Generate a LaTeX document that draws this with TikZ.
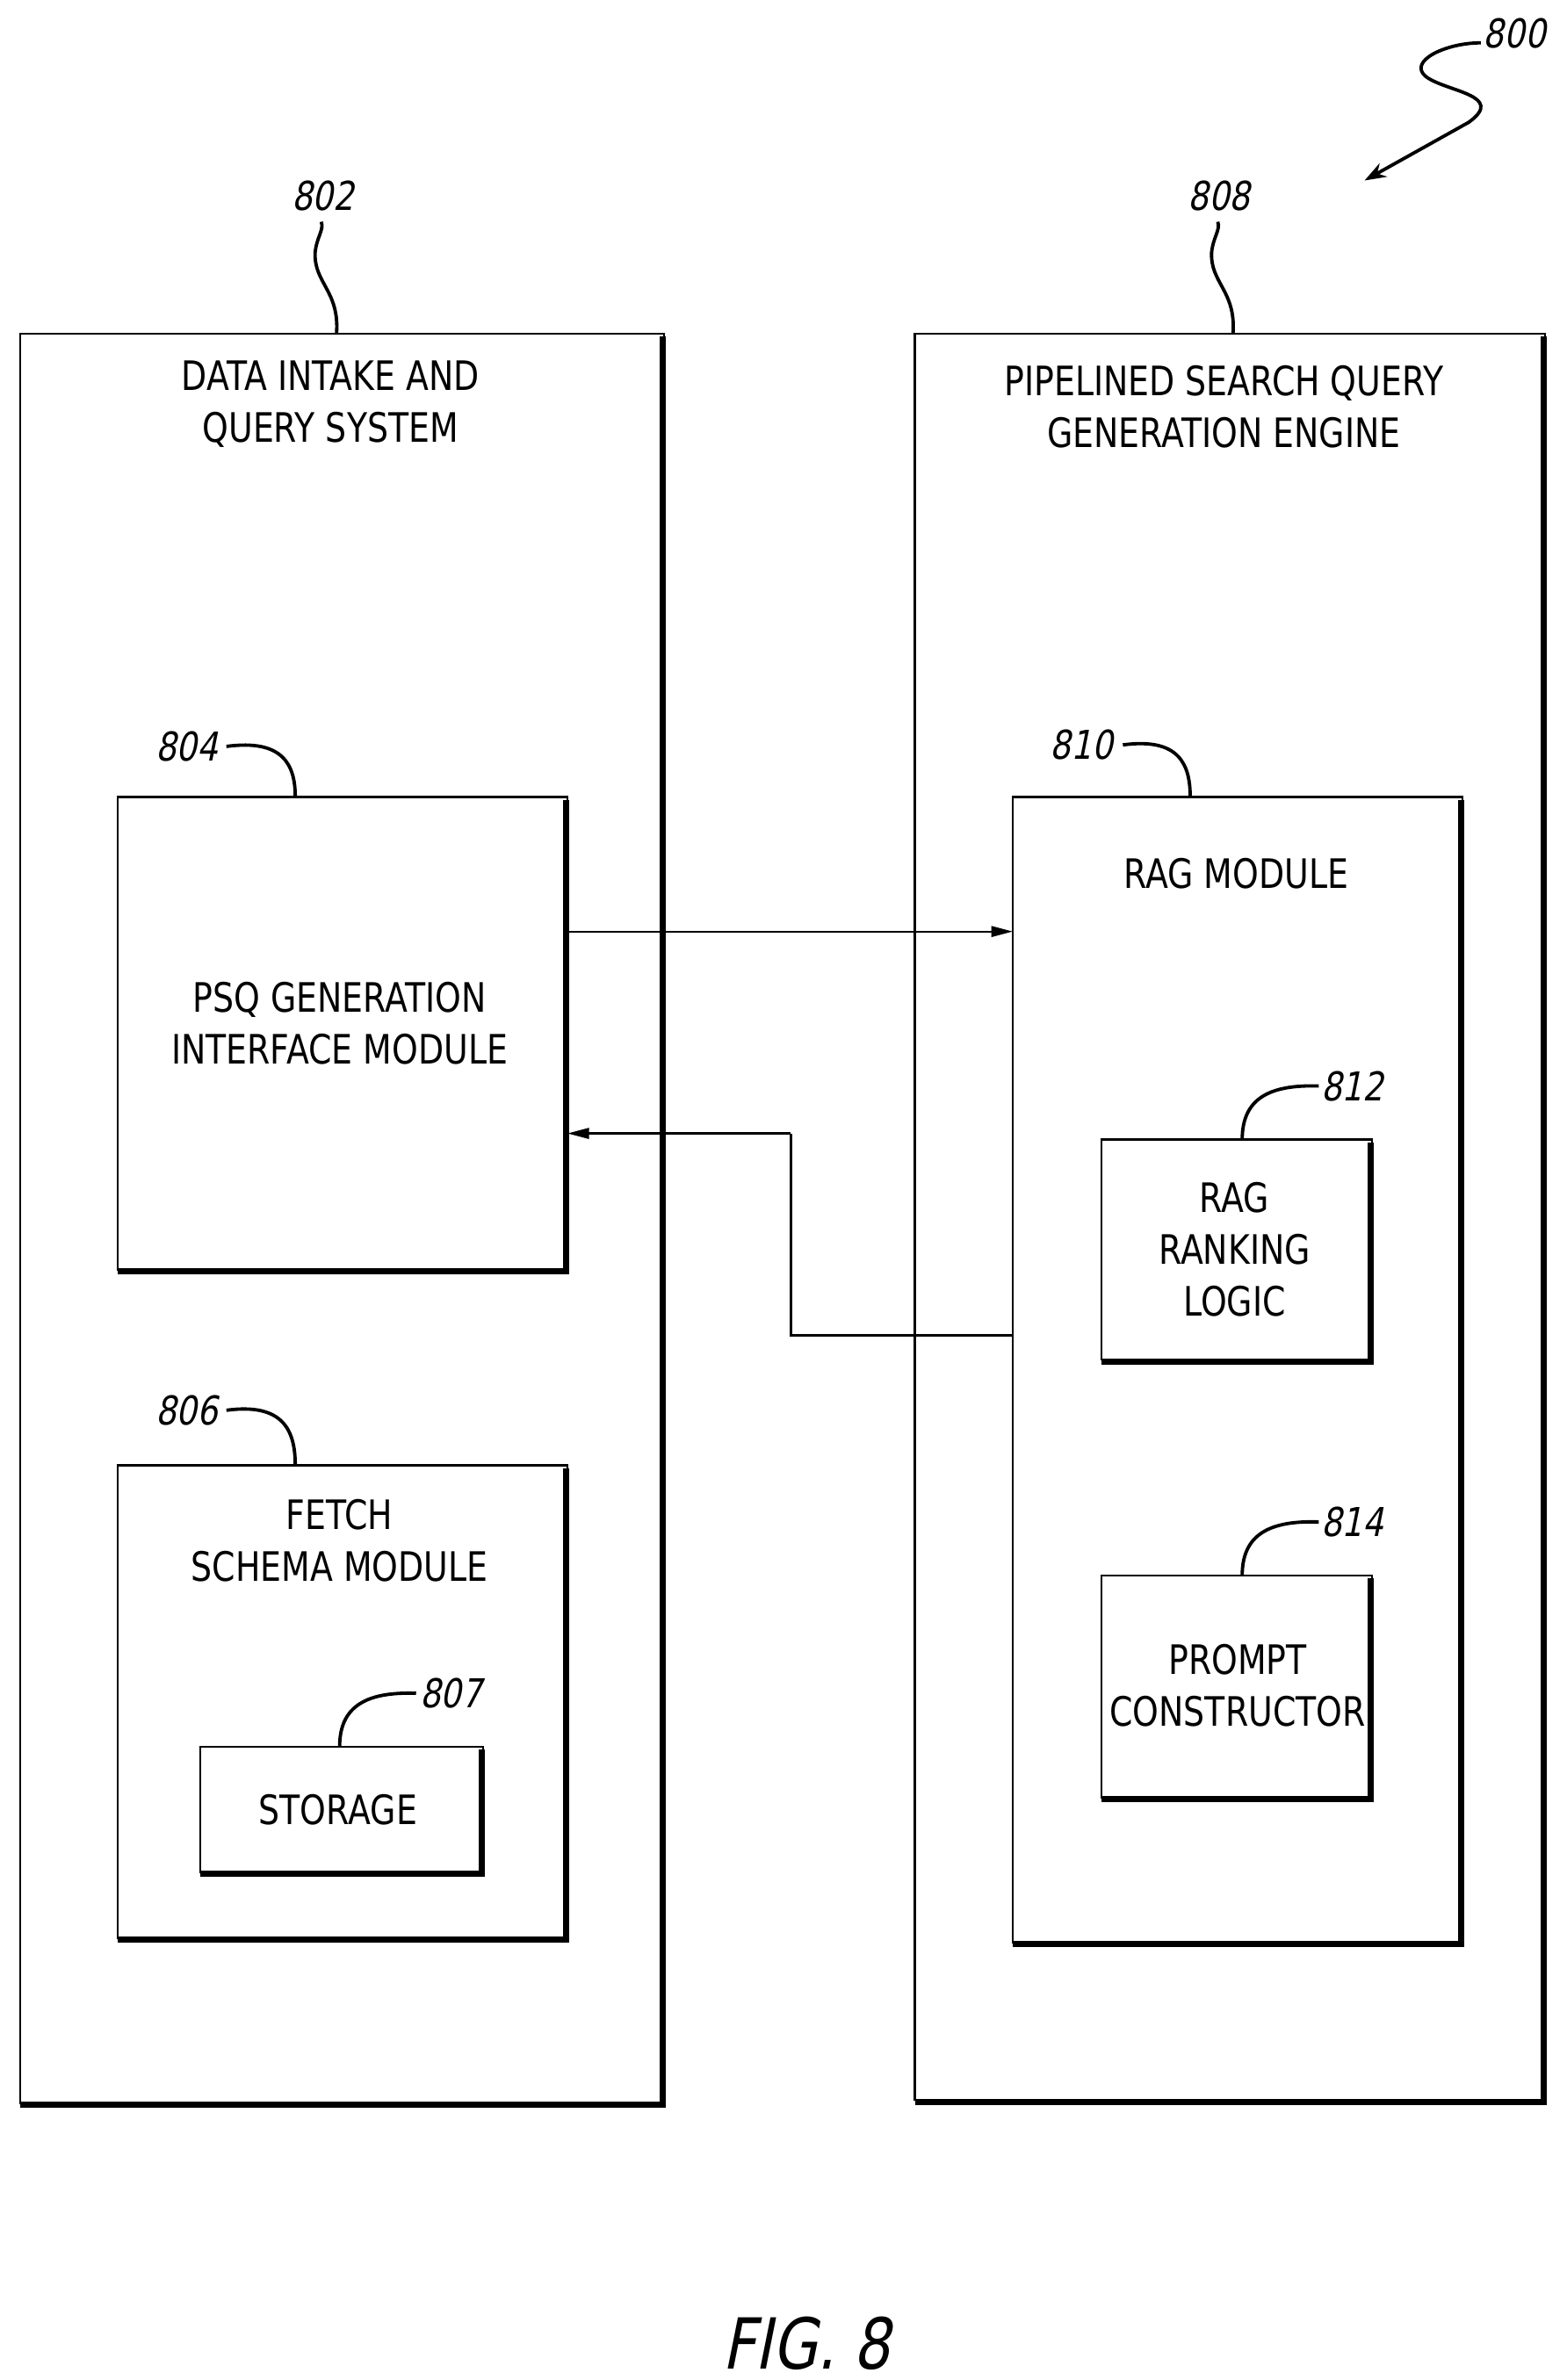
\documentclass[tikz,border=0pt]{standalone}
\usepackage{fontspec}
\setmainfont{DejaVu Sans}[FakeStretch=0.82]
\newfontfamily\numfont{DejaVu Sans}[FakeStretch=0.82,FakeSlant=0.2]
\usetikzlibrary{arrows.meta}
\begin{document}
\begin{tikzpicture}[x=1pt,y=-1pt,
  lbl/.style={font=\fontsize{26.5}{34}\selectfont,align=center,inner sep=0},
  num/.style={font=\numfont\fontsize{26}{30}\selectfont,inner sep=1pt},
  box/.style={draw,line width=1.3pt},
  lead/.style={line width=2.2pt},
  conn/.style={line width=1.3pt,-{Triangle[length=14pt,width=7pt]}}]
\useasboundingbox (0,0) rectangle (1024,1556);
\newcommand\shbox[2]{%
  \draw[box] (#1) rectangle (#2);
  \draw[line width=4pt] ([xshift=-1pt]#2 |- #1) ++(0,2) -- ([xshift=-1pt,yshift=-1pt]#2) -- ([yshift=-1pt]#1 |- #2);
}
\coordinate (a1) at (13,218); \coordinate (a2) at (434,1375);
\coordinate (b1) at (598,218); \coordinate (b2) at (1010,1373);
\coordinate (c1) at (77,521); \coordinate (c2) at (371,830);
\coordinate (d1) at (77,958); \coordinate (d2) at (371,1267);
\coordinate (e1) at (131,1142); \coordinate (e2) at (316,1224);
\coordinate (f1) at (662,521); \coordinate (f2) at (956,1270);
\coordinate (g1) at (720,745); \coordinate (g2) at (897,889);
\coordinate (h1) at (720,1030); \coordinate (h2) at (897,1175);
\shbox{a1}{a2}\shbox{b1}{b2}\shbox{c1}{c2}\shbox{d1}{d2}
\shbox{e1}{e2}\shbox{f1}{f2}\shbox{g1}{g2}\shbox{h1}{h2}
\node[lbl] (ta) at (216,264) {DATA INTAKE AND\\QUERY SYSTEM};
\node[lbl] (tb) at (800,266) {PIPELINED SEARCH QUERY\\GENERATION ENGINE};
\node[lbl] (tc) at (222,669) {PSQ GENERATION\\INTERFACE MODULE};
\node[lbl] (td) at (222,1007) {FETCH\\SCHEMA MODULE};
\node[lbl] (te) at (221,1183) {STORAGE};
\node[lbl] (tf) at (808,571) {RAG MODULE};
\node[lbl] (tg) at (807,817) {RAG\\RANKING\\LOGIC};
\node[lbl] (th) at (809,1102) {PROMPT\\CONSTRUCTOR};
\node[num] (n802) at (211,128) {802};
\node[num] (n808) at (797,128) {808};
\node[num] (n804) at (122,488) {804};
\node[num] (n806) at (122,922) {806};
\node[num] (n807) at (295,1107) {807};
\node[num] (n810) at (707,487) {810};
\node[num] (n812) at (884,710) {812};
\node[num] (n814) at (884,995) {814};
\node[num] (n800) at (990,22) {800};
\node[font=\numfont\fontsize{46}{52}\selectfont] (fig) at (527,1532) {FIG. 8};
\draw[lead] (220,218) .. controls (222,190) and (205,185) .. (206,165) .. controls (207,155) and (212,150) .. (210,145);
\draw[lead] (806,218) .. controls (808,190) and (791,185) .. (792,165) .. controls (793,155) and (798,150) .. (796,145);
\draw[lead] (148,488) .. controls (185,483) and (193,500) .. (193,521);
\draw[lead] (148,922) .. controls (185,917) and (193,935) .. (193,958);
\draw[lead] (734,487) .. controls (771,482) and (778,500) .. (778,521);
\draw[lead] (222,1142) .. controls (222,1115) and (240,1106) .. (272,1107);
\draw[lead] (812,745) .. controls (812,718) and (830,709) .. (862,710);
\draw[lead] (812,1030) .. controls (812,1003) and (830,994) .. (862,995);
\draw[lead,-{Stealth[length=14pt,width=10pt]}] (968,28) .. controls (945,28) and (920,40) .. (932,50) .. controls (945,60) and (985,62) .. (960,80) -- (892,118);
\draw[conn] (c2 |- 0,609) -- (f1 |- 0,609);
\draw[line width=1.3pt] (f1 |- 0,873) -- (517,873) -- (517,741);
\draw[conn] (517,741) -- (c2 |- 0,741);
\end{tikzpicture}
\end{document}
